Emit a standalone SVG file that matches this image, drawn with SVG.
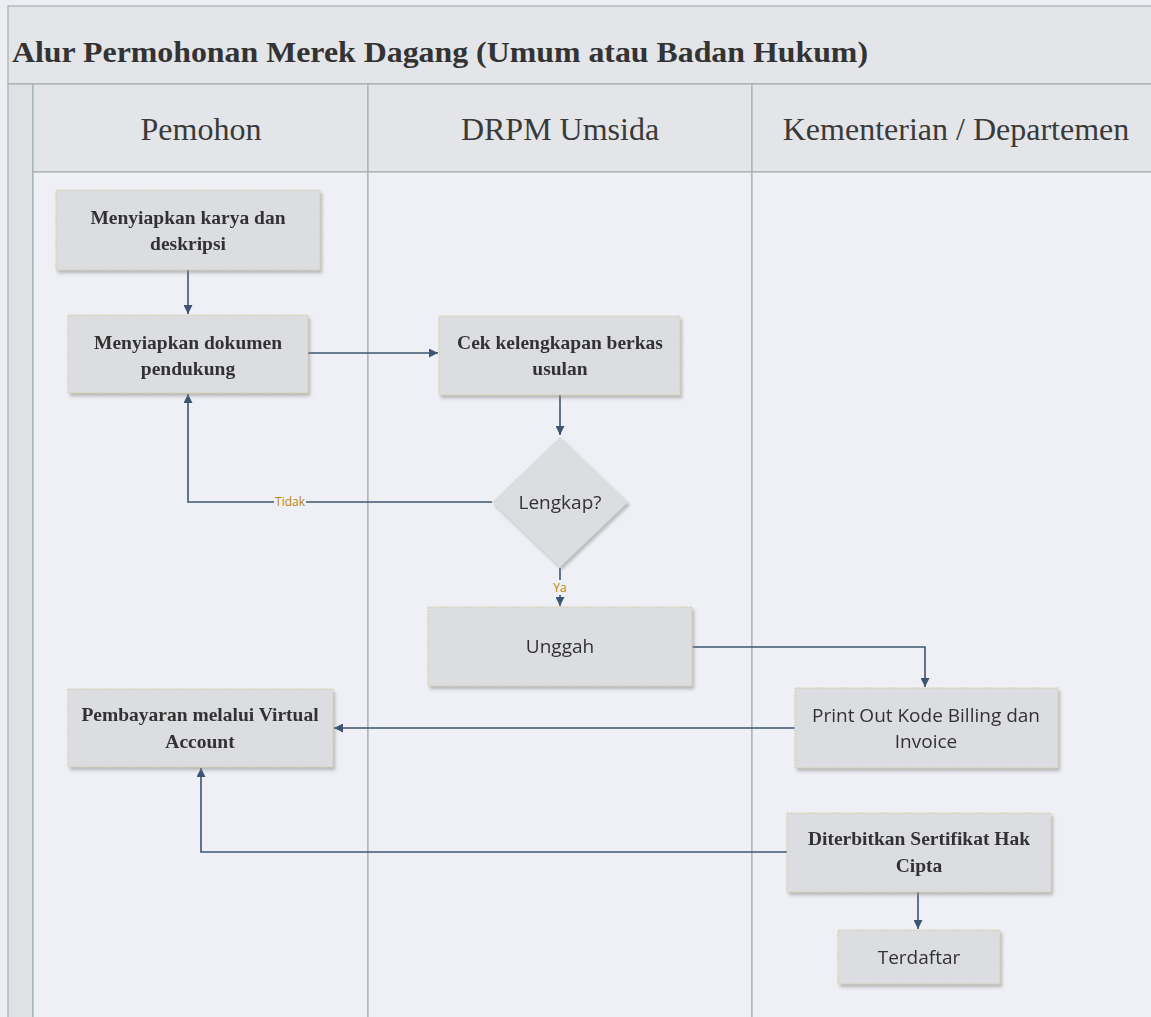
<svg xmlns="http://www.w3.org/2000/svg" width="1151" height="1017" viewBox="0 0 1151 1017">
<defs>
<style>
.bg{fill:#eceef3}
.band{fill:#e3e5e9;stroke:#a3b0ae;stroke-width:1.2}
.lane{fill:#eef0f5;stroke:#a3b0ae;stroke-width:1.2}
.strip{fill:#dfe1e5;stroke:#a3b0ae;stroke-width:1.2}
.box{fill:#dcdde0;stroke:#d8cfa8;stroke-width:1;stroke-dasharray:2 1}
.ts{font-family:"Liberation Serif",serif;font-weight:bold;font-size:19.5px;fill:#333;text-anchor:middle}
.tn{font-family:"Open Sans","Noto Sans",sans-serif;font-size:19px;fill:#333;text-anchor:middle}
.hd{font-family:"Liberation Serif",serif;font-size:32px;fill:#3a3a3a;text-anchor:middle}
.con{fill:none;stroke:#3d5572;stroke-width:1.6}
.lbl{font-family:"Open Sans","Noto Sans",sans-serif;font-size:12px;fill:#b8860b;text-anchor:middle}
</style>
<marker id="ah" viewBox="0 0 10 10" refX="10" refY="5" markerWidth="9" markerHeight="9" markerUnits="userSpaceOnUse" orient="auto"><path d="M0,0 L10,5 L0,10 z" fill="#3d5572"/></marker>
<filter id="sh" x="-5%" y="-5%" width="115%" height="120%"><feDropShadow dx="2" dy="3" stdDeviation="1.5" flood-color="#888" flood-opacity="0.5"/></filter>
</defs>
<rect class="bg" x="0" y="0" width="1151" height="1017"/>
<g id="frame">
<rect class="band" x="8" y="6" width="1150" height="78"/>
<text x="12" y="62" font-family="Liberation Serif,serif" font-weight="bold" font-size="30" fill="#333" textLength="856" lengthAdjust="spacingAndGlyphs">Alur Permohonan Merek Dagang (Umum atau Badan Hukum)</text>
<rect class="strip" x="8" y="84" width="25" height="940"/>
<rect class="band" x="33" y="84" width="335" height="88"/>
<rect class="band" x="368" y="84" width="384" height="88"/>
<rect class="band" x="752" y="84" width="406" height="88"/>
<rect class="lane" x="33" y="172" width="335" height="852"/>
<rect class="lane" x="368" y="172" width="384" height="852"/>
<rect class="lane" x="752" y="172" width="406" height="852"/>
<text class="hd" x="201" y="140">Pemohon</text>
<text class="hd" x="560" y="140">DRPM Umsida</text>
<text class="hd" x="956" y="140">Kementerian / Departemen</text>
</g>
<g id="connectors">
<line class="con" x1="188" y1="270" x2="188" y2="314" marker-end="url(#ah)"/>
<line class="con" x1="308" y1="353" x2="438" y2="353" marker-end="url(#ah)"/>
<line class="con" x1="560" y1="395" x2="560" y2="435" marker-end="url(#ah)"/>
<polyline class="con" points="492,502 188,502 188,394" marker-end="url(#ah)"/>
<rect x="274" y="494" width="32" height="15" fill="#eef0f5"/>
<text class="lbl" x="290" y="506">Tidak</text>
<line class="con" x1="560" y1="568" x2="560" y2="606" marker-end="url(#ah)"/>
<rect x="550" y="580" width="20" height="15" fill="#eef0f5"/>
<text class="lbl" x="560" y="592">Ya</text>
<polyline class="con" points="692,647 925,647 925,687" marker-end="url(#ah)"/>
<line class="con" x1="795" y1="728" x2="334" y2="728" marker-end="url(#ah)"/>
<polyline class="con" points="787,852 201,852 201,768" marker-end="url(#ah)"/>
<line class="con" x1="918" y1="892" x2="918" y2="929" marker-end="url(#ah)"/>
</g>
<g id="n1" filter="url(#sh)"><rect class="box" x="56" y="190" width="264" height="80"/><text class="ts" x="188" y="224">Menyiapkan karya dan</text><text class="ts" x="188" y="250">deskripsi</text></g>
<g id="n2" filter="url(#sh)"><rect class="box" x="68" y="315" width="240" height="78"/><text class="ts" x="188" y="349">Menyiapkan dokumen</text><text class="ts" x="188" y="375">pendukung</text></g>
<g id="n3" filter="url(#sh)"><rect class="box" x="439" y="316" width="241" height="79"/><text class="ts" x="560" y="349">Cek kelengkapan berkas</text><text class="ts" x="560" y="375">usulan</text></g>
<g id="n4" filter="url(#sh)"><polygon points="560,437 628,502 560,567 492,502" fill="#dcdde0"/><text class="tn" x="560" y="509">Lengkap?</text></g>
<g id="n5" filter="url(#sh)"><rect class="box" x="428" y="607" width="264" height="79"/><text class="tn" x="560" y="653">Unggah</text></g>
<g id="n6" filter="url(#sh)"><rect class="box" x="68" y="689" width="265" height="78"/><text class="ts" x="200" y="721">Pembayaran melalui Virtual</text><text class="ts" x="200" y="748">Account</text></g>
<g id="n7" filter="url(#sh)"><rect class="box" x="795" y="688" width="263" height="80"/><text class="tn" x="926" y="722">Print Out Kode Billing dan</text><text class="tn" x="926" y="748">Invoice</text></g>
<g id="n8" filter="url(#sh)"><rect class="box" x="787" y="813" width="264" height="79"/><text class="ts" x="919" y="845">Diterbitkan Sertifikat Hak</text><text class="ts" x="919" y="872">Cipta</text></g>
<g id="n9" filter="url(#sh)"><rect class="box" x="838" y="930" width="162" height="54"/><text class="tn" x="919" y="964">Terdaftar</text></g>
</svg>
